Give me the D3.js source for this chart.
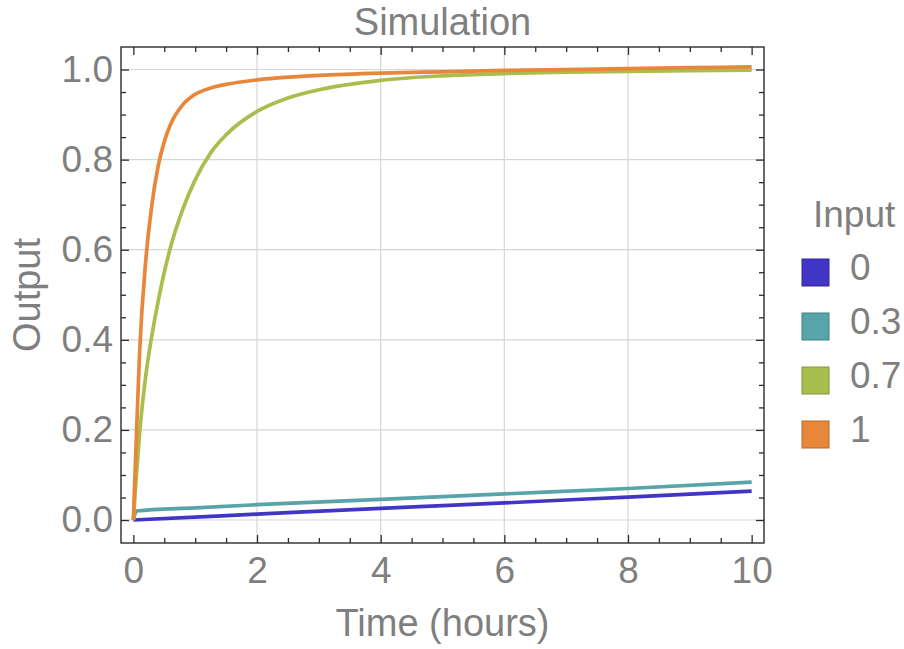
<!DOCTYPE html>
<html>
<meta charset="utf-8">
<script src="https://d3js.org/d3.v7.min.js"></script>
<style>
  body { margin: 0; background: #fff; }
  text { font-family: "Liberation Sans", Arial, sans-serif; fill: #7f7f7f; }
</style>
<body>
<div id="chart"></div>
<script>

// legend entries (input level) and colours
var inputs = ["0", "0.3", "0.7", "1"];
var colors = ["#4135c5", "#58a4ab", "#a9be4d", "#e8873a"];

// values, one time/output pair per series
var time0 = [0, 2, 4, 6, 8, 10];
var out0  = [0, 0.013, 0.026, 0.038, 0.051, 0.064];

var time03 = [0, 0.05, 1, 2, 4, 6, 8, 10];
var out03  = [0, 0.02, 0.027, 0.034, 0.046, 0.058, 0.070, 0.084];

var time07 = [0, 0.05, 0.1, 0.2, 0.3, 0.4, 0.5, 0.6, 0.8, 1, 1.25, 1.5, 2, 2.5, 3, 4, 5, 6, 7, 8, 9, 10];
var out07  = [0, 0.10, 0.19, 0.32, 0.41, 0.485, 0.55, 0.605, 0.69, 0.755, 0.815, 0.855, 0.907, 0.937, 0.955, 0.976, 0.986, 0.991, 0.994, 0.996, 0.9975, 0.9985];

var time1 = [0, 0.05, 0.1, 0.2, 0.3, 0.4, 0.5, 0.6, 0.8, 1, 1.25, 1.5, 2, 2.5, 3, 4, 5, 6, 7, 8, 9, 10];
var out1  = [0, 0.19, 0.37, 0.575, 0.70, 0.785, 0.84, 0.878, 0.922, 0.945, 0.959, 0.967, 0.977, 0.983, 0.987, 0.992, 0.995, 0.998, 1.0, 1.002, 1.004, 1.006];

// tick labels
var xTicks = [0, 2, 4, 6, 8, 10];
var yTicks = [0, 0.2, 0.4, 0.6, 0.8, 1.0];

var width = 904, height = 649;
var plotLeft = 121, plotRight = 764, plotTop = 47, plotBottom = 543;

var svg = d3.select("#chart")
  .append("svg")
    .attr("width", width)
    .attr("height", height);

var x = d3.scaleLinear().domain([-0.2, 10.2]).range([plotLeft, plotRight]);
var y = d3.scaleLinear().domain([-0.051, 1.05]).range([plotBottom, plotTop]);

var xMinor = d3.range(0, 10.01, 0.5).filter(function(d) { return xTicks.indexOf(d) < 0; });
var yMinor = d3.range(0, 21).map(function(i) { return i * 0.05; })
  .filter(function(d) { return Math.abs(d * 5 - Math.round(d * 5)) > 1e-6; });

// grid
svg.append("g").selectAll("line")
  .data(xTicks.filter(function(d) { return d > 0 && d < 10; }))
  .enter().append("line")
    .attr("x1", function(d) { return x(d); })
    .attr("x2", function(d) { return x(d); })
    .attr("y1", plotTop).attr("y2", plotBottom)
    .attr("stroke", "#d6d6d6").attr("stroke-width", 1.2);
svg.append("g").selectAll("line")
  .data(yTicks)
  .enter().append("line")
    .attr("y1", function(d) { return y(d); })
    .attr("y2", function(d) { return y(d); })
    .attr("x1", plotLeft).attr("x2", plotRight)
    .attr("stroke", "#d6d6d6").attr("stroke-width", 1.2);

// series
var series = [
  { t: time0, v: out0 },
  { t: time03, v: out03 },
  { t: time07, v: out07 },
  { t: time1, v: out1 }
];

var line = d3.line()
  .x(function(d) { return x(d[0]); })
  .y(function(d) { return y(d[1]); })
  .curve(d3.curveMonotoneX);

series.forEach(function(s, i) {
  svg.append("path")
    .datum(d3.zip(s.t, s.v))
    .attr("fill", "none")
    .attr("stroke", colors[i])
    .attr("stroke-width", 3.7)
    .attr("stroke-linejoin", "round")
    .attr("d", line);
});

// axes: ticks point inward on all four sides
function styleAxis(g) {
  g.select(".domain").remove();
  g.selectAll(".tick line").attr("stroke", "#2b2b2b").attr("stroke-width", 1.3);
  g.selectAll("text")
    .style("font-family", "'Liberation Sans', Arial, sans-serif")
    .style("font-size", "37px")
    .attr("fill", "#7f7f7f");
}

svg.append("g").attr("transform", "translate(0," + plotBottom + ")")
  .call(d3.axisBottom(x).tickValues(xTicks).tickSize(-8).tickPadding(14).tickFormat(d3.format("d")))
  .call(styleAxis);
svg.append("g").attr("transform", "translate(0," + plotBottom + ")")
  .call(d3.axisBottom(x).tickValues(xMinor).tickSize(-5).tickFormat(""))
  .call(styleAxis);
svg.append("g").attr("transform", "translate(0," + plotTop + ")")
  .call(d3.axisTop(x).tickValues(xTicks).tickSize(-8).tickFormat(""))
  .call(styleAxis);
svg.append("g").attr("transform", "translate(0," + plotTop + ")")
  .call(d3.axisTop(x).tickValues(xMinor).tickSize(-5).tickFormat(""))
  .call(styleAxis);

svg.append("g").attr("transform", "translate(" + plotLeft + ",0)")
  .call(d3.axisLeft(y).tickValues(yTicks).tickSize(-8).tickPadding(8).tickFormat(d3.format(".1f")))
  .call(styleAxis);
svg.append("g").attr("transform", "translate(" + plotLeft + ",0)")
  .call(d3.axisLeft(y).tickValues(yMinor).tickSize(-5).tickFormat(""))
  .call(styleAxis);
svg.append("g").attr("transform", "translate(" + plotRight + ",0)")
  .call(d3.axisRight(y).tickValues(yTicks).tickSize(-8).tickFormat(""))
  .call(styleAxis);
svg.append("g").attr("transform", "translate(" + plotRight + ",0)")
  .call(d3.axisRight(y).tickValues(yMinor).tickSize(-5).tickFormat(""))
  .call(styleAxis);

// frame
svg.append("rect")
  .attr("x", plotLeft).attr("y", plotTop)
  .attr("width", plotRight - plotLeft).attr("height", plotBottom - plotTop)
  .attr("fill", "none")
  .attr("stroke", "#2b2b2b")
  .attr("stroke-width", 1.4);

// titles
svg.append("text")
  .attr("x", (plotLeft + plotRight) / 2).attr("y", 35)
  .attr("text-anchor", "middle")
  .style("font-size", "38px")
  .text("Simulation");

svg.append("text")
  .attr("x", (plotLeft + plotRight) / 2).attr("y", 636)
  .attr("text-anchor", "middle")
  .style("font-size", "38px")
  .text("Time (hours)");

svg.append("text")
  .attr("transform", "translate(40," + ((plotTop + plotBottom) / 2) + ")rotate(-90)")
  .attr("text-anchor", "middle")
  .style("font-size", "38px")
  .text("Output");

// legend
var legend = svg.append("g").attr("transform", "translate(802,0)");
legend.append("text")
  .attr("x", 11).attr("y", 227)
  .style("font-size", "37px")
  .text("Input");

var item = legend.selectAll(".item")
  .data(inputs)
  .enter().append("g")
    .attr("class", "item")
    .attr("transform", function(d, i) { return "translate(0," + (259 + i * 54) + ")"; });
item.append("rect")
  .attr("width", 27).attr("height", 27)
  .attr("fill", function(d, i) { return colors[i]; })
  .attr("stroke", function(d, i) { return d3.color(colors[i]).darker(0.7); })
  .attr("stroke-width", 1);
item.append("text")
  .attr("x", 48).attr("y", 21)
  .style("font-size", "37px")
  .text(function(d) { return d; });

</script>
</body>
</html>
